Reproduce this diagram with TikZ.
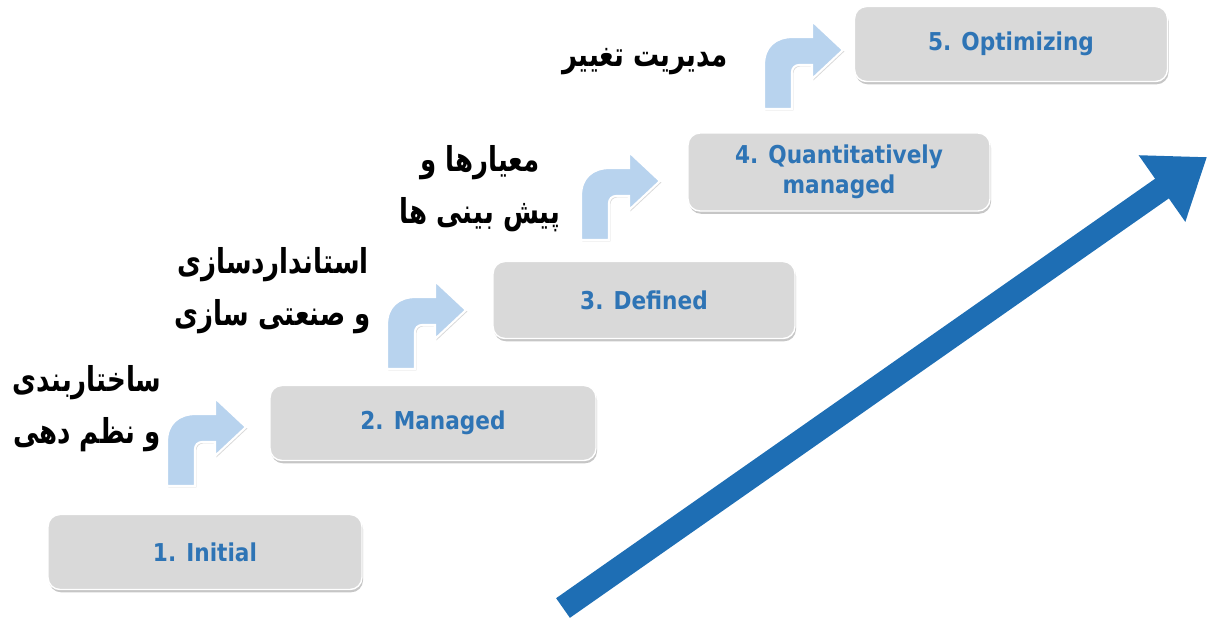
\documentclass[tikz,border=0pt]{standalone}
\usepackage{fontspec}
\setmainfont{DejaVu Sans}
\newfontfamily\levelfont[FakeStretch=0.88]{DejaVu Sans}
\newfontfamily\farsi[Script=Arabic, FakeStretch=0.76]{DejaVu Sans}
\TeXXeTstate=1
\usetikzlibrary{arrows.meta,shadows}

\definecolor{levelblue}{HTML}{2E74B5}
\definecolor{levelgray}{HTML}{D9D9D9}
\definecolor{bendblue}{HTML}{B8D3EE}
\definecolor{riseblue}{HTML}{1E6EB4}

\begin{document}
\begin{tikzpicture}[x=0.02cm, y=-0.02cm,
	level/.style={rounded corners=0.24cm, fill=levelgray, draw=white, line width=0.8pt,
		drop shadow={shadow xshift=0.6pt, shadow yshift=-1.6pt, opacity=0.45},
		minimum height=1.5cm, align=center, text=levelblue,
		font=\levelfont\bfseries\fontsize{14}{17}\selectfont},
	farsilbl/.style={align=center, font=\farsi\bfseries\fontsize{19.5}{29.5}\selectfont},
	bendarrow/.pic={
		\fill[bendblue, draw=white, line width=1.2pt,
			drop shadow={shadow xshift=0.8pt, shadow yshift=-0.8pt, opacity=0.3}]
			(0,0) -- (0,-44) .. controls (0,-62) and (11,-72) .. (29,-72)
			-- (48,-72) -- (48,-88) -- (79,-59) -- (48,-30) -- (48,-44)
			-- (35,-44) .. controls (31,-44) and (28,-41) .. (28,-37) -- (28,0) -- cycle;
	}]
	\useasboundingbox (0,0) rectangle (1209,623);

	% the rising arrow behind everything
	\coordinate (riseTail) at (563,608);
	\coordinate (riseTip) at (1207,157);
	\draw [riseblue, line width=0.48cm, -{Triangle[length=1.1cm, width=1.55cm]}] (riseTail) -- (riseTip);

	% maturity levels
	\node [level, minimum width=6.28cm] (lvlA) at (205,552) {1. Initial};
	\node [level, minimum width=6.52cm] (lvlB) at (433,423) {2. Managed};
	\node [level, minimum width=6.04cm, minimum height=1.54cm] (lvlC) at (644,300) {3. Defined};
	\node [level, minimum width=6.04cm, minimum height=1.56cm] (lvlD) at (839,172) {4. Quantitatively\\managed};
	\node [level, minimum width=6.26cm] (lvlE) at (1011,44) {5. Optimizing};

	% steps between levels
	\pic at (167,486) {bendarrow};
	\pic at (387,369) {bendarrow};
	\pic at (581,240) {bendarrow};
	\pic at (764,109) {bendarrow};

	\node [farsilbl] (noteA) at (87,409) {\beginR ساختاربندی\endR\\\beginR و نظم دهی\endR};
	\node [farsilbl] (noteB) at (273,291) {\beginR استانداردسازی\endR\\\beginR و صنعتی سازی\endR};
	\node [farsilbl] (noteC) at (480,189) {\beginR معیارها و\endR\\\beginR پیش بینی ها\endR};
	\node [farsilbl] (noteD) at (645,62) {\beginR مدیریت تغییر\endR};

\end{tikzpicture}
\end{document}
